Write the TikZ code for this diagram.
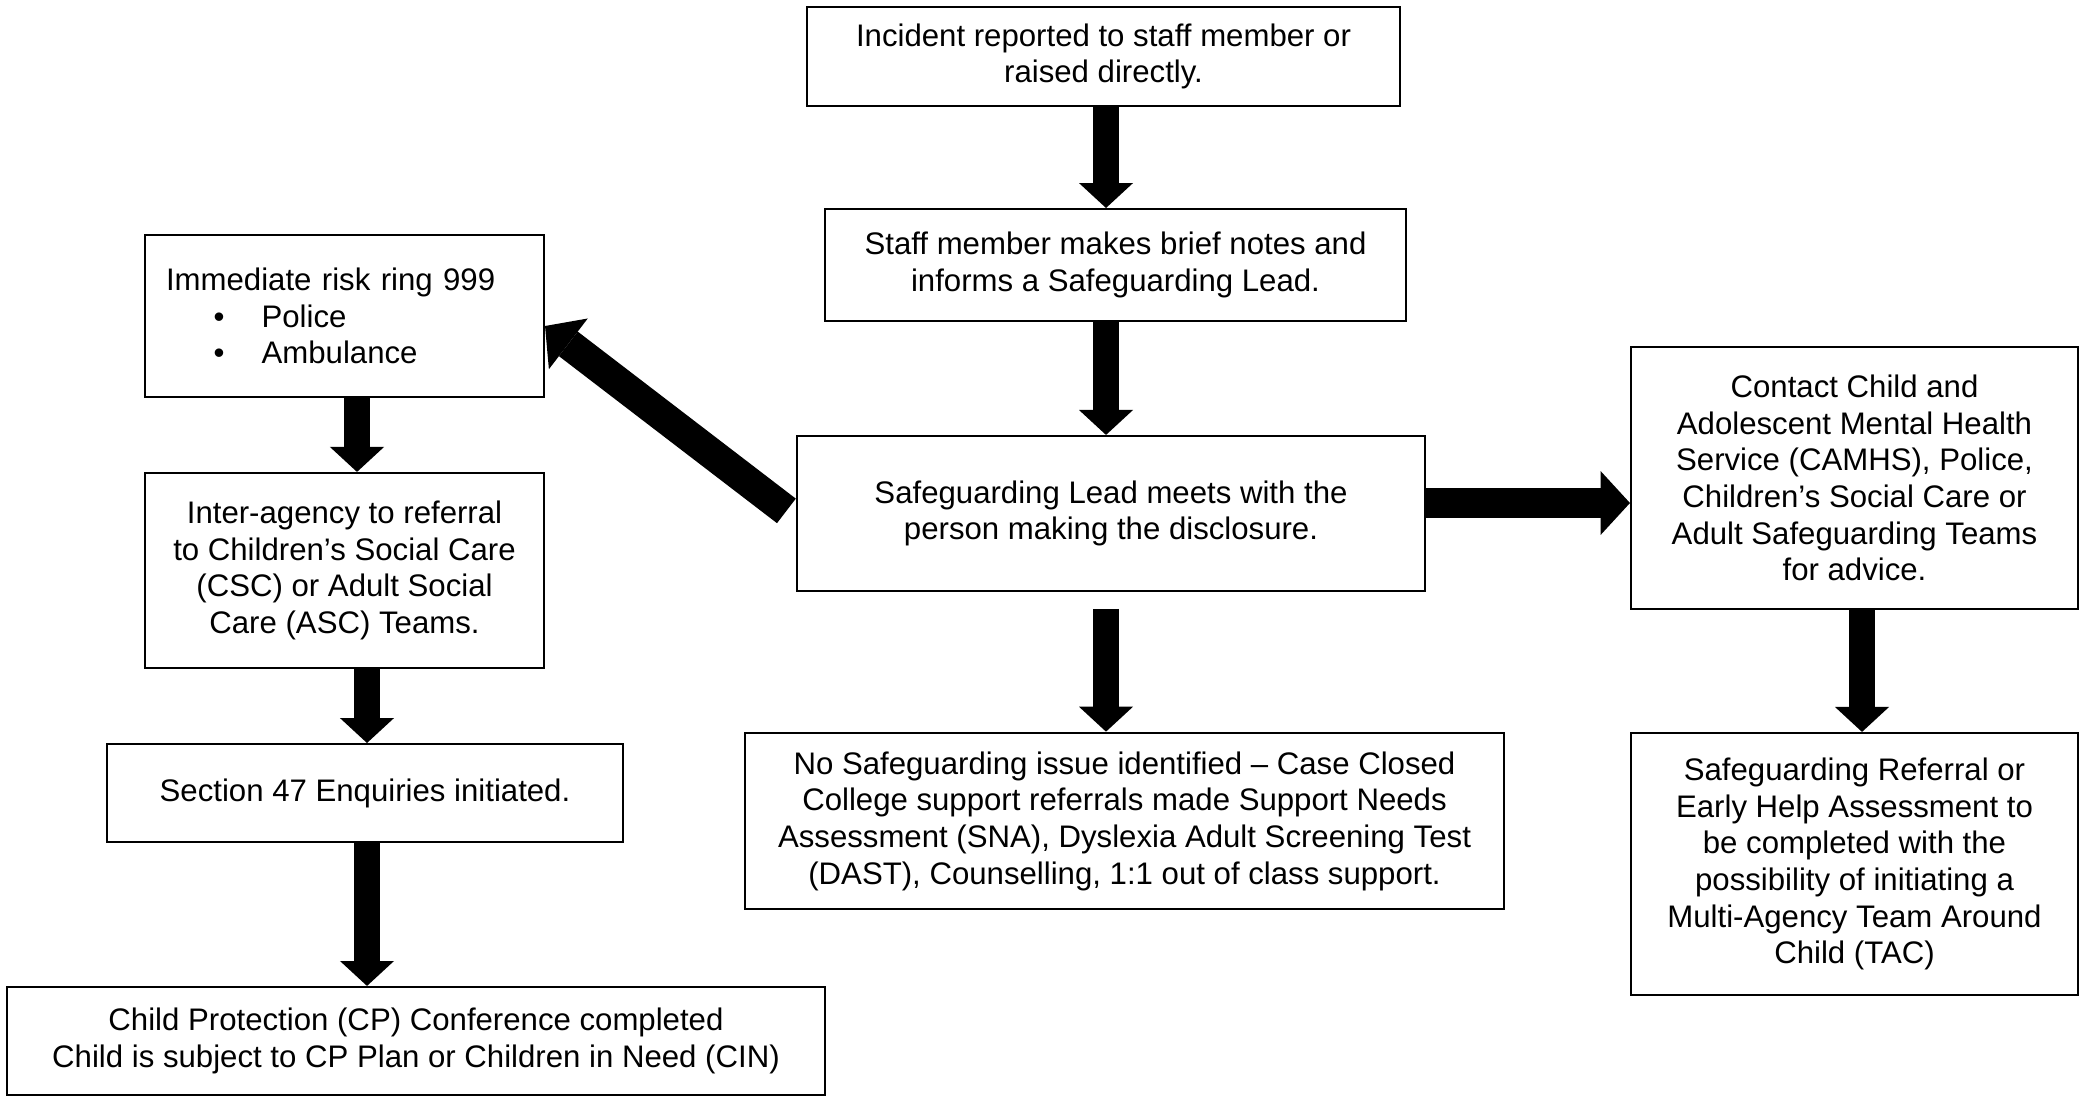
\documentclass[tikz,border=0pt]{standalone}
\usepackage{fontspec}
\setmainfont{Liberation Sans}
\usetikzlibrary{arrows.meta}
\begin{document}
\begin{tikzpicture}[x=0.385pt,y=-0.385pt,
        stage/.style={draw, line width=0.8pt, align=center, inner sep=0pt,
                font=\fontsize{12pt}{14.1pt}\selectfont},
        flow/.style={line width=10pt, -{Triangle[width=20.8pt,length=9.6pt,line width=0pt]}},
        bigflow/.style={line width=11.9pt, -{Triangle[width=24.6pt,length=11.3pt,line width=0pt]}}]
        \useasboundingbox (0,0) rectangle (2087,1097);

        \node[stage, minimum width=228.3pt, minimum height=38.1pt] (1) at (1103.5,56.5) {Incident reported to staff member or\\raised directly.};
        \node[stage, minimum width=223.7pt, minimum height=43.1pt] (2) at (1115.5,265) {Staff member makes brief notes and\\informs a Safeguarding Lead.};
        \node[stage, minimum width=242pt, minimum height=59.7pt] (3) at (1111,513.5) {Safeguarding Lead meets with the\\person making the disclosure.};
        \node[stage, minimum width=153.6pt, minimum height=62.4pt, text width=137.4pt, inner xsep=8.1pt, align=left] (4) at (344.5,316) {Immediate risk ring 999\\\hspace*{18.3pt}\textbullet\hspace*{14.3pt}Police\\\hspace*{18.3pt}\textbullet\hspace*{14.3pt}Ambulance};
        \node[stage, minimum width=153.6pt, minimum height=75.1pt] (5) at (344.5,570.5) {Inter-agency to referral\\to Children’s Social Care\\(CSC) or Adult Social\\Care (ASC) Teams.};
        \node[stage, minimum width=198.9pt, minimum height=37.7pt] (6) at (365,793) {Section 47 Enquiries initiated.};
        \node[stage, minimum width=314.9pt, minimum height=41.6pt] (7) at (416,1041) {Child Protection (CP) Conference completed\\Child is subject to CP Plan or Children in Need (CIN)};
        \node[stage, minimum width=292.2pt, minimum height=68pt] (8) at (1124.5,821) {No Safeguarding issue identified – Case Closed\\College support referrals made Support Needs\\Assessment (SNA), Dyslexia Adult Screening Test\\(DAST), Counselling, 1:1 out of class support.};
        \node[stage, minimum width=172.1pt, minimum height=101.1pt] (9) at (1854.5,478) {Contact Child and\\Adolescent Mental Health\\Service (CAMHS), Police,\\Children’s Social Care or\\Adult Safeguarding Teams\\for advice.};
        \node[stage, minimum width=172.1pt, minimum height=100.9pt] (10) at (1854.5,864) {Safeguarding Referral or\\Early Help Assessment to\\be completed with the\\possibility of initiating a\\Multi-Agency Team Around\\Child (TAC)};

        \coordinate (mid) at (1106,0);
        \coordinate (lcol) at (357,0);
        \coordinate (lcol2) at (367,0);
        \coordinate (rcol) at (1862,0);
        \coordinate (across) at (0,503);
        \coordinate (diag) at (0,518);
        \coordinate (diagtip) at (0,326);

        \path[draw,flow] (1.south -| mid) -- (2.north -| mid);
        \path[draw,flow] (2.south -| mid) -- (3.north -| mid);
        \path[draw,flow] ([yshift=-6.5pt]3.south -| mid) -- (8.north -| mid);
        \path[draw,flow] (4.south -| lcol) -- (5.north -| lcol);
        \path[draw,flow] (5.south -| lcol2) -- (6.north -| lcol2);
        \path[draw,flow] (6.south -| lcol2) -- (7.north -| lcol2);
        \path[draw,flow] (9.south -| rcol) -- (10.north -| rcol);
        \path[draw,bigflow] (3.east |- across) -- (9.west |- across);
        \path[draw,bigflow,shorten <=4.5pt] (3.west |- diag) -- (4.east |- diagtip);
\end{tikzpicture}
\end{document}
